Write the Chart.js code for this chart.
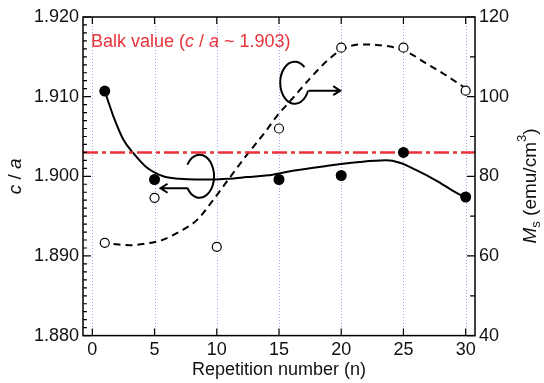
<!DOCTYPE html>
<html>
<head>
<meta charset="utf-8">
<script src="https://cdn.jsdelivr.net/npm/chart.js@4/dist/chart.umd.min.js"></script>
<style>
  html, body { margin: 0; padding: 0; background: #fff; }
  #wrap { width: 544px; height: 383px; }
</style>
</head>
<body>
<div id="wrap"><canvas id="myChart" width="544" height="383"></canvas></div>
<script>
// measured points
const caRepetition = [1, 5, 15, 20, 25, 30];
const caValues = [1.9107, 1.8996, 1.8996, 1.9001, 1.9030, 1.8974];
const msRepetition = [1, 5, 10, 15, 20, 25, 30];
const msValues = [63.3, 74.6, 62.3, 92.0, 112.3, 112.3, 101.5];

// fitted guide curves
const caFitX = [1, 1.7, 2.5, 3.3, 4.3, 5.7, 7, 8.3, 9.7, 11, 12.4, 14.5, 16.1, 18.8, 21.5, 23.6, 24.7, 26, 27.6, 29.3, 30];
const caFitY = [1.9107, 1.9075, 1.9046, 1.9029, 1.9012, 1.9000, 1.8997, 1.8996, 1.8996, 1.8997, 1.8999, 1.9002, 1.9007, 1.9013, 1.9018, 1.9020, 1.9017, 1.9008, 1.8995, 1.8979, 1.8974];
const msFitX = [1.7, 3, 4.3, 5.7, 7, 8.4, 9.7, 11, 12.4, 14, 14.8, 16.1, 17.5, 18.8, 20, 21.5, 22.8, 24.2, 25.5, 26.8, 28.4, 29.8];
const msFitY = [63.0, 62.7, 63.1, 64.1, 66.1, 69.0, 74.0, 79.5, 85.3, 91.6, 95.0, 99.6, 104.6, 108.8, 111.7, 113.1, 113.0, 112.4, 110.9, 108.4, 105.4, 102.5];

const bulkCa = 1.903;

const xTicks = [0, 5, 10, 15, 20, 25, 30];
const caTicks = [1.88, 1.89, 1.90, 1.91, 1.92];
const msTicks = [40, 60, 80, 100, 120];

const FONT = "'Liberation Sans', Arial, Helvetica, sans-serif";
const RED = '#e8333b';

function pts(xs, ys) {
  return xs.map((x, i) => ({ x: x, y: ys[i] }));
}

// draws a run of text pieces, each with its own font / shift, left to right
function drawPieces(ctx, pieces, x, y) {
  let cx = x;
  pieces.forEach(p => {
    ctx.font = p.font;
    ctx.fillText(p.text, cx, y + (p.dy || 0));
    cx += ctx.measureText(p.text).width;
  });
}
function piecesWidth(ctx, pieces) {
  let w = 0;
  pieces.forEach(p => { ctx.font = p.font; w += ctx.measureText(p.text).width; });
  return w;
}

const framePlugin = {
  id: 'frame',
  beforeDatasetsDraw(chart) {
    const { ctx, chartArea: a, scales } = chart;
    // dotted vertical guides
    ctx.save();
    ctx.strokeStyle = 'rgba(110,130,225,0.7)';
    ctx.lineWidth = 1;
    ctx.setLineDash([1, 2]);
    xTicks.forEach(v => {
      const px = Math.round(scales.x.getPixelForValue(v)) + 0.5;
      ctx.beginPath();
      ctx.moveTo(px, a.top);
      ctx.lineTo(px, a.bottom);
      ctx.stroke();
    });
    ctx.restore();
  },
  afterDatasetsDraw(chart) {
    const { ctx, chartArea: a, scales } = chart;
    ctx.save();
    ctx.strokeStyle = '#000';
    ctx.lineWidth = 1.5;
    ctx.strokeRect(a.left, a.top, a.right - a.left, a.bottom - a.top);

    ctx.lineWidth = 1.2;
    ctx.beginPath();
    // x ticks, bottom and top, pointing inward
    xTicks.forEach(v => {
      const px = scales.x.getPixelForValue(v);
      ctx.moveTo(px, a.bottom); ctx.lineTo(px, a.bottom - 7);
      ctx.moveTo(px, a.top); ctx.lineTo(px, a.top + 7);
    });
    // left axis: minor every 0.001, major every 0.01
    for (let i = 0; i <= 40; i++) {
      const v = 1.88 + i * 0.001;
      const py = scales.y.getPixelForValue(v);
      const len = (i % 10 === 0) ? 8 : 4;
      ctx.moveTo(a.left, py); ctx.lineTo(a.left + len, py);
    }
    // right axis: minor every 10, major every 20
    for (let v = 40; v <= 120; v += 10) {
      const py = scales.y2.getPixelForValue(v);
      const len = (v % 20 === 0) ? 8 : 5;
      ctx.moveTo(a.right, py); ctx.lineTo(a.right - len, py);
    }
    ctx.stroke();
    ctx.restore();
  },
  afterDraw(chart) {
    const { ctx, chartArea: a, scales } = chart;
    ctx.save();
    ctx.fillStyle = '#111';
    ctx.textBaseline = 'middle';

    // x title
    ctx.font = '18px ' + FONT;
    ctx.textAlign = 'center';
    ctx.fillText('Repetition number (n)', (a.left + a.right) / 2, 370);
    ctx.textAlign = 'left';

    // left title: c / a
    const caTitle = [
      { text: 'c', font: 'italic 19px ' + FONT },
      { text: ' / ', font: '19px ' + FONT },
      { text: 'a', font: 'italic 19px ' + FONT }
    ];
    ctx.save();
    ctx.translate(16, (a.top + a.bottom) / 2);
    ctx.rotate(-Math.PI / 2);
    drawPieces(ctx, caTitle, -piecesWidth(ctx, caTitle) / 2, 0);
    ctx.restore();

    // right title: Ms (emu/cm3)
    const msTitle = [
      { text: 'M', font: 'italic 19px ' + FONT },
      { text: 's', font: '13px ' + FONT, dy: 5 },
      { text: ' (emu/cm', font: '19px ' + FONT },
      { text: '3', font: '13px ' + FONT, dy: -9 },
      { text: ')', font: '19px ' + FONT }
    ];
    ctx.save();
    ctx.translate(531, 186);
    ctx.rotate(-Math.PI / 2);
    drawPieces(ctx, msTitle, -piecesWidth(ctx, msTitle) / 2, 0);
    ctx.restore();

    // bulk value label
    ctx.fillStyle = RED;
    drawPieces(ctx, [
      { text: 'Balk value (', font: '18px ' + FONT },
      { text: 'c', font: 'italic 18px ' + FONT },
      { text: ' / ', font: '18px ' + FONT },
      { text: 'a', font: 'italic 18px ' + FONT },
      { text: ' ~ ' + bulkCa.toFixed(3) + ')', font: '18px ' + FONT }
    ], a.left + 8, 42);

    // curly arrows pointing to each series' axis
    ctx.strokeStyle = '#000';
    ctx.fillStyle = '#000';
    ctx.lineWidth = 2;
    const deg = Math.PI / 180;

    // to the c/a axis (points left)
    let tx = scales.x.getPixelForValue(5.4);
    let ty = scales.y.getPixelForValue(1.8985);
    ctx.beginPath();
    ctx.ellipse(tx + 40, ty - 12, 14.5, 21.5, 0, 148 * deg, -147 * deg, true);
    ctx.stroke();
    ctx.beginPath();
    ctx.moveTo(tx + 27.5, ty);
    ctx.lineTo(tx + 1, ty);
    ctx.moveTo(tx + 8, ty - 4.5); ctx.lineTo(tx + 1, ty); ctx.lineTo(tx + 8, ty + 4.5);
    ctx.stroke();

    // to the Ms axis (points right)
    tx = scales.x.getPixelForValue(20);
    ty = scales.y2.getPixelForValue(101.5);
    ctx.beginPath();
    ctx.ellipse(tx - 46.5, ty - 8, 14.5, 21, 0, -48 * deg, 22 * deg, true);
    ctx.stroke();
    ctx.beginPath();
    ctx.moveTo(tx - 32.5, ty);
    ctx.lineTo(tx - 1, ty);
    ctx.moveTo(tx - 8, ty - 4.5); ctx.lineTo(tx - 1, ty); ctx.lineTo(tx - 8, ty + 4.5);
    ctx.stroke();

    ctx.restore();
  }
};

Chart.defaults.font.family = FONT;
Chart.defaults.font.size = 18;
Chart.defaults.color = '#111';

new Chart(document.getElementById('myChart').getContext('2d'), {
  type: 'scatter',
  data: {
    datasets: [
      {
        label: 'c/a',
        data: pts(caRepetition, caValues),
        yAxisID: 'y',
        pointRadius: 5.5,
        pointBackgroundColor: '#000',
        pointBorderColor: '#000',
        pointBorderWidth: 0,
        showLine: false,
        order: 0
      },
      {
        label: 'Ms',
        data: pts(msRepetition, msValues),
        yAxisID: 'y2',
        pointRadius: 4.5,
        pointBackgroundColor: '#fff',
        pointBorderColor: '#000',
        pointBorderWidth: 1.2,
        showLine: false,
        order: 0
      },
      {
        label: 'c/a fit',
        data: pts(caFitX, caFitY),
        yAxisID: 'y',
        showLine: true,
        pointRadius: 0,
        borderColor: '#000',
        borderWidth: 2,
        cubicInterpolationMode: 'monotone',
        order: 2
      },
      {
        label: 'Ms fit',
        data: pts(msFitX, msFitY),
        yAxisID: 'y2',
        showLine: true,
        pointRadius: 0,
        borderColor: '#000',
        borderWidth: 2,
        borderDash: [7, 5],
        cubicInterpolationMode: 'monotone',
        order: 2
      },
      {
        label: 'bulk',
        data: [{ x: -0.75, y: bulkCa }, { x: 30.75, y: bulkCa }],
        yAxisID: 'y',
        showLine: true,
        pointRadius: 0,
        borderColor: RED,
        borderWidth: 2.5,
        borderDash: [15, 4, 4, 4],
        order: 1
      }
    ]
  },
  options: {
    responsive: false,
    animation: false,
    events: [],
    layout: { padding: { top: 17, left: 0, right: 0, bottom: 0 } },
    plugins: { legend: { display: false }, tooltip: { enabled: false } },
    scales: {
      x: {
        type: 'linear',
        min: -0.75,
        max: 30.75,
        grid: { display: false, drawTicks: false },
        border: { display: false },
        ticks: { padding: 4 },
        afterBuildTicks: s => { s.ticks = xTicks.map(v => ({ value: v })); },
        afterFit: s => { s.height = 47.4; }
      },
      y: {
        type: 'linear',
        position: 'left',
        min: 1.88,
        max: 1.92,
        grid: { display: false, drawTicks: false },
        border: { display: false },
        ticks: { padding: 4, callback: v => v.toFixed(3) },
        afterBuildTicks: s => { s.ticks = caTicks.map(v => ({ value: v })); },
        afterFit: s => { s.width = 83; }
      },
      y2: {
        type: 'linear',
        position: 'right',
        min: 40,
        max: 120,
        grid: { display: false, drawTicks: false },
        border: { display: false },
        ticks: { padding: 4 },
        afterBuildTicks: s => { s.ticks = msTicks.map(v => ({ value: v })); },
        afterFit: s => { s.width = 69; }
      }
    }
  },
  plugins: [framePlugin]
});
</script>
</body>
</html>
